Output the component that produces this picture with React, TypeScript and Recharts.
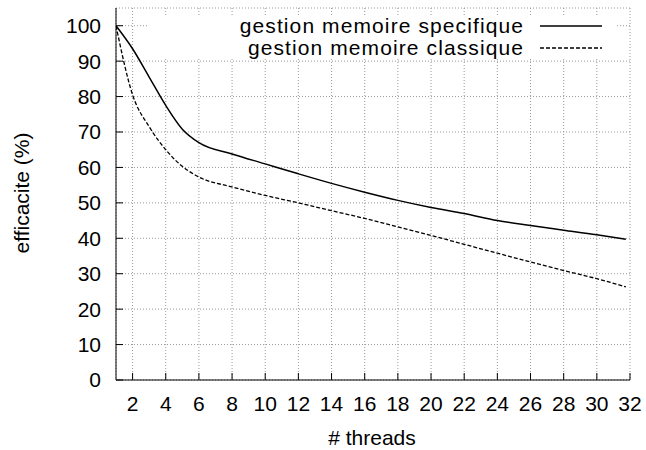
import React from 'react';
import { LineChart, Line, XAxis, YAxis, CartesianGrid, Legend } from 'recharts';

const threads = [1, 2, 3, 4, 5, 6, 8, 10, 12, 14, 16, 18, 20, 22, 24, 26, 28, 30, 31.75];
const specifique = [100, 93.5, 85.5, 77.5, 70.8, 67, 63.8, 61, 58.2, 55.5, 53, 50.7, 48.7, 47, 45, 43.6, 42.3, 41, 39.7];
const classique = [100, 80.5, 71.5, 65, 60.3, 57.3, 54.5, 52.1, 50, 47.8, 45.6, 43.2, 40.8, 38.3, 35.8, 33.3, 30.9, 28.6, 26.3];
const xTicks = [2, 4, 6, 8, 10, 12, 14, 16, 18, 20, 22, 24, 26, 28, 30, 32];
const yTicks = [0, 10, 20, 30, 40, 50, 60, 70, 80, 90, 100];
const seriesNames = ['gestion memoire specifique', 'gestion memoire classique'];

const data = threads.map((t, i) => ({ t, specifique: specifique[i], classique: classique[i] }));

const FONT = '"Liberation Sans", Arial, sans-serif';
const tickStyle = { fill: '#000', fontSize: 21, fontFamily: FONT };

function KeyBox() {
  const rows = [
    { name: seriesNames[0], dash: undefined },
    { name: seriesNames[1], dash: '4 2' },
  ];
  return (
    <div style={{ background: '#fff', paddingRight: 15, fontFamily: FONT, fontSize: 21, letterSpacing: '1.1px' }}>
      {rows.map((r) => (
        <div key={r.name} style={{ display: 'flex', justifyContent: 'flex-end', alignItems: 'center', height: 22 }}>
          <span style={{ lineHeight: '22px', whiteSpace: 'nowrap' }}>{r.name}</span>
          <svg width={62} height={22} style={{ marginLeft: 16 }}>
            <line x1={0} x2={62} y1={11} y2={11} stroke="#000" strokeWidth={1.3} strokeDasharray={r.dash} />
          </svg>
        </div>
      ))}
    </div>
  );
}

export default function App() {
  return (
    <div style={{ position: 'absolute', left: 0, top: 0, width: 646, height: 450, background: '#fff' }}>
      <LineChart width={646} height={450} data={data} margin={{ top: 8, right: 16, bottom: 0, left: 0 }}>
        <CartesianGrid stroke="#999" strokeDasharray="1 2" />
        <XAxis
          dataKey="t"
          type="number"
          domain={[1, 32]}
          ticks={xTicks}
          height={70}
          tickSize={-7}
          tickMargin={23}
          stroke="#000"
          tick={tickStyle}
          interval={0}
          allowDataOverflow
          label={{
            content: () => (
              <text x={372} y={437} textAnchor="middle" dominantBaseline="central" fontSize={21} fontFamily={FONT} fill="#000">
                # threads
              </text>
            ),
          }}
        />
        <XAxis xAxisId="top" orientation="top" dataKey="t" type="number" domain={[1, 32]} ticks={xTicks} height={0} tickSize={-7} tick={false} stroke="#000" />
        <YAxis
          type="number"
          domain={[0, 105]}
          ticks={yTicks}
          width={116}
          tickSize={-7}
          tickMargin={22}
          stroke="#000"
          tick={tickStyle}
          interval={0}
          label={{
            content: () => (
              <text x={21} y={193} transform="rotate(-90 21 193)" textAnchor="middle" dominantBaseline="central" fontSize={21} fontFamily={FONT} fill="#000">
                efficacite (%)
              </text>
            ),
          }}
        />
        <YAxis yAxisId="right" orientation="right" type="number" domain={[0, 105]} ticks={yTicks} width={0} tickSize={-7} tick={false} stroke="#000" />
        <Legend
          layout="vertical"
          align="center"
          verticalAlign="middle"
          content={() => <KeyBox />}
          wrapperStyle={{ position: 'absolute', left: 148, top: 15, width: 469, height: 44, margin: 0 }}
        />
        <Line type="monotone" dataKey="specifique" name={seriesNames[0]} stroke="#000" strokeWidth={1.5} dot={false} isAnimationActive={false} />
        <Line type="monotone" dataKey="classique" name={seriesNames[1]} stroke="#000" strokeWidth={1.3} strokeDasharray="4 2" dot={false} isAnimationActive={false} />
      </LineChart>
    </div>
  );
}
